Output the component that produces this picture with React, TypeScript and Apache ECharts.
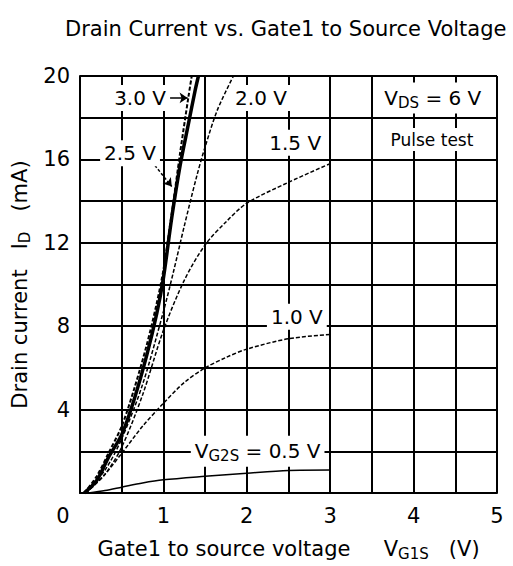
import React, { useEffect, useRef } from 'react';
import * as echarts from 'echarts';

// Gate1 to source voltage VG1S (V) vs drain current ID (mA), one list per VG2S
const xTickLabels = [0, 1, 2, 3, 4, 5];
const yTickLabels = [4, 8, 12, 16, 20];
const gateVoltages = ['0.5 V', '1.0 V', '1.5 V', '2.0 V', '2.5 V', '3.0 V'];

const idAt05 = [[0.1, 0], [0.3, 0.12], [0.5, 0.28], [0.75, 0.48], [1.0, 0.63], [1.5, 0.8], [2.0, 0.95], [2.5, 1.08], [3.0, 1.1]];
const idAt10 = [[0.07, 0], [0.3, 0.9], [0.5, 1.9], [0.75, 3.2], [1.0, 4.3], [1.25, 5.3], [1.5, 6.0], [1.75, 6.5], [2.0, 6.9], [2.5, 7.4], [3.0, 7.6]];
const idAt15 = [[0.07, 0], [0.3, 0.9], [0.5, 2.2], [0.75, 4.7], [1.0, 7.8], [1.25, 10.2], [1.5, 11.9], [1.75, 13.0], [2.0, 13.9], [2.5, 14.9], [3.0, 15.8]];
const idAt20 = [[0.06, 0], [0.3, 1.1], [0.5, 2.6], [0.75, 5.2], [1.0, 8.7], [1.12, 10.6], [1.25, 12.8], [1.4, 15.2], [1.5, 16.6], [1.65, 18.4], [1.84, 20]];
const idAt25 = [[0.05, 0], [0.2, 0.6], [0.34, 1.7], [0.5, 2.8], [0.65, 4.5], [0.8, 6.6], [0.92, 8.6], [1.0, 10.3], [1.1, 13.2], [1.2, 15.7], [1.3, 17.7], [1.38, 19.3], [1.42, 20]];
const idAt30 = [[0.05, 0], [0.2, 0.8], [0.34, 1.9], [0.5, 3.2], [0.65, 5.0], [0.8, 7.1], [0.92, 9.1], [1.0, 10.7], [1.1, 13.4], [1.2, 16.3], [1.3, 19.0], [1.34, 20]];

const FONT = 'DejaVu Sans';

export default function App() {
  const ref = useRef<HTMLDivElement>(null);

  useEffect(() => {
    document.body.style.margin = '0';
    const chart = echarts.init(ref.current!, null, { renderer: 'svg' });

    const subRich = {
      n: { fontSize: 20, fontFamily: FONT, color: '#000' },
      sub: { fontSize: 15, fontFamily: FONT, color: '#000', padding: [10, 0, 0, 0] },
    };

    const labelStyle = {
      show: true,
      position: 'inside',
      color: '#000',
      fontFamily: FONT,
      fontSize: 20,
      backgroundColor: '#fff',
      padding: [3, 4],
      rich: subRich,
    };

    const mp = (coord: number[], text: string, extra: any = {}) => ({
      coord,
      symbol: 'circle',
      symbolSize: 1,
      itemStyle: { color: 'rgba(0,0,0,0)' },
      label: { ...labelStyle, formatter: text, ...extra },
    });

    const curve = (name: string, data: number[][], style: any, points: any[], lines: any[] = []) => ({
      name,
      type: 'line',
      data,
      smooth: 0.3,
      showSymbol: false,
      clip: true,
      lineStyle: { color: '#000', ...style },
      markPoint: { silent: true, data: points },
      markLine: lines.length
        ? {
            silent: true,
            symbol: ['none', 'arrow'],
            symbolSize: 8,
            label: { show: false },
            lineStyle: { color: '#000', width: 1.5, type: 'solid' },
            data: lines,
          }
        : undefined,
    });

    const series: any[] = [
      curve(gateVoltages[0], idAt05, { width: 1.5 }, [
        mp([2.13, 2.0], '{n|V}{sub|G2S}{n| = ' + gateVoltages[0] + '}'),
      ]),
      curve(gateVoltages[1], idAt10, { width: 1.5, type: [4, 2] }, [mp([2.6, 8.45], gateVoltages[1])]),
      curve(gateVoltages[2], idAt15, { width: 1.5, type: [4, 2] }, [mp([2.58, 16.8], gateVoltages[2])]),
      curve(gateVoltages[3], idAt20, { width: 1.5, type: [4, 2] }, [mp([2.17, 18.95], gateVoltages[3])]),
      curve(gateVoltages[4], idAt25, { width: 3.5 }, [mp([0.6, 16.3], gateVoltages[4])], [
        [{ coord: [0.86, 15.9] }, { coord: [1.1, 14.7], lineStyle: { type: [3, 2] } }],
      ]),
      curve(gateVoltages[5], idAt30, { width: 2, type: [4, 2] }, [mp([0.72, 18.95], gateVoltages[5])], [
        [{ coord: [1.08, 18.95] }, { coord: [1.29, 18.95] }],
      ]),
      {
        name: 'conditions',
        type: 'line',
        data: [],
        markPoint: {
          silent: true,
          data: [
            mp([4.23, 18.95], '{n|V}{sub|DS}{n| = 6 V}'),
            mp([4.22, 16.95], 'Pulse test', { fontSize: 17 }),
          ],
        },
      },
    ];

    chart.setOption({
      animation: false,
      backgroundColor: '#fff',
      title: {
        text: 'Drain Current vs. Gate1 to Source Voltage',
        left: 60,
        top: 13,
        textStyle: { fontFamily: FONT, fontSize: 21, fontWeight: 'normal', color: '#000' },
      },
      grid: { left: 80, right: 16, top: 76, bottom: 71 },
      xAxis: {
        type: 'value',
        min: 0,
        max: 5,
        interval: 0.5,
        name: 'Gate1 to source voltage     {n|V}{sub|G1S}{n|   (V)}',
        nameLocation: 'middle',
        nameGap: 43,
        nameTextStyle: {
          fontFamily: FONT,
          fontSize: 21,
          color: '#000',
          rich: {
            n: { fontSize: 21, fontFamily: FONT, color: '#000' },
            sub: { fontSize: 15, fontFamily: FONT, color: '#000', padding: [10, 0, 0, 0] },
          },
        },
        axisLine: { show: true, lineStyle: { color: '#000', width: 2 } },
        axisTick: { show: false },
        axisLabel: {
          margin: 12,
          color: '#000',
          fontFamily: FONT,
          fontSize: 21,
          formatter: (v: number) => {
            if (!xTickLabels.includes(v)) return '';
            return v === 0 ? '{z|0}' : String(v);
          },
          rich: { z: { fontFamily: FONT, fontSize: 21, color: '#000', padding: [0, 34, 0, 0] } },
        },
        splitLine: { show: true, lineStyle: { color: '#000', width: 2 } },
      },
      yAxis: {
        type: 'value',
        min: 0,
        max: 20,
        interval: 2,
        name: 'Drain current   I{sub|D}   (mA)',
        nameLocation: 'middle',
        nameRotate: 90,
        nameGap: 46,
        nameTextStyle: {
          fontFamily: FONT,
          fontSize: 21,
          color: '#000',
          rich: { sub: { fontSize: 15, fontFamily: FONT, color: '#000', padding: [10, 0, 0, 0] } },
        },
        axisLine: { show: true, lineStyle: { color: '#000', width: 2 } },
        axisTick: { show: false },
        axisLabel: {
          margin: 10,
          color: '#000',
          fontFamily: FONT,
          fontSize: 21,
          formatter: (v: number) => (yTickLabels.includes(v) ? String(v) : ''),
        },
        splitLine: { show: true, lineStyle: { color: '#000', width: 2 } },
      },
      series,
    });

    return () => chart.dispose();
  }, []);

  return <div ref={ref} style={{ width: 513, height: 566 }} />;
}
